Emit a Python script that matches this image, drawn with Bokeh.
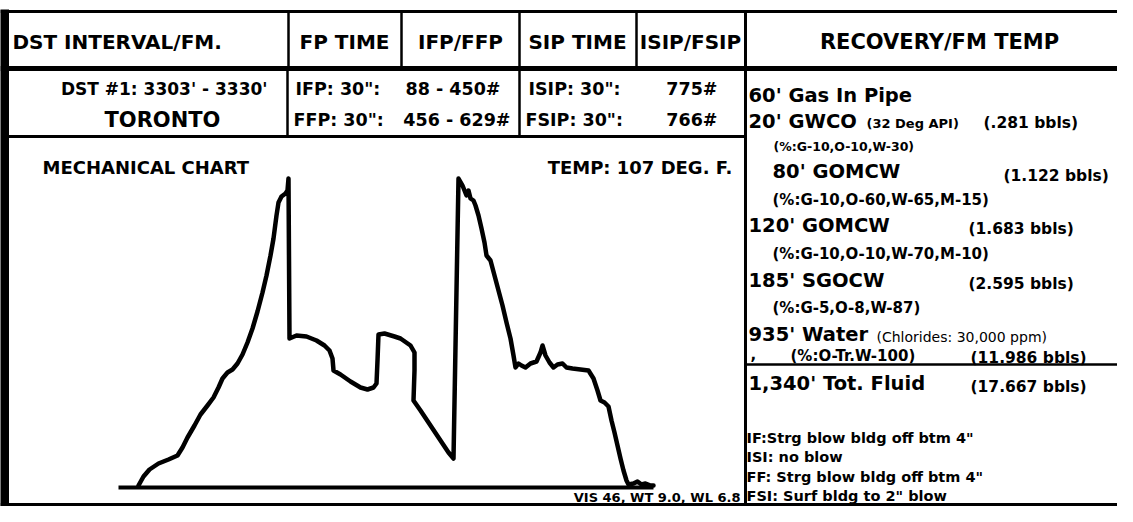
from bokeh.plotting import figure
from bokeh.models import Range1d
from bokeh.core.properties import value
from bokeh.embed import file_html
from bokeh.resources import INLINE

# ---------------- data ----------------
header_labels = ["DST INTERVAL/FM.", "FP TIME", "IFP/FFP", "SIP TIME", "ISIP/FSIP", "RECOVERY/FM TEMP"]
interval_lines = ["DST #1: 3303' - 3330'", "TORONTO"]
flow_labels = ["IFP:  30\":", "FFP:  30\":"]
flow_values = ["88 - 450#", "456 - 629#"]
shutin_labels = ["ISIP: 30\":", "FSIP: 30\":"]
shutin_values = ["775#", "766#"]
chart_title = "MECHANICAL  CHART"
temp_label = "TEMP:  107 DEG. F."
mud_label = "VIS 46, WT 9.0, WL 6.8"

recovery_main = ["60' Gas In Pipe", "20' GWCO", "80' GOMCW", "120' GOMCW", "185' SGOCW", "935' Water", "1,340' Tot. Fluid"]
recovery_bbls = ["(.281 bbls)", "(1.122 bbls)", "(1.683 bbls)", "(2.595 bbls)", "(11.986 bbls)", "(17.667 bbls)"]
recovery_pct = ["(%:G-10,O-60,W-65,M-15)", "(%:G-10,O-10,W-70,M-10)", "(%:G-5,O-8,W-87)", "(%:O-Tr.W-100)"]
recovery_pct_first = "(%:G-10,O-10,W-30)"
api_note = "(32 Deg API)"
chloride_note = "(Chlorides: 30,000 ppm)"
blow_notes = ["IF:Strg blow bldg off btm 4\"", "ISI: no blow", "FF: Strg blow bldg off btm 4\"", "FSI: Surf bldg to 2\" blow"]

# mechanical chart trace: time (min) vs pressure (psi)
time_min = [6.0, 7.5, 9.3, 12.0, 15.0, 17.7, 19.2, 20.7, 22.8, 24.6, 26.7, 28.5, 30.0, 31.2, 32.7, 34.2,
            35.7, 37.2, 38.7, 40.2, 41.7, 43.2, 44.4, 45.6, 46.5, 47.4, 48.0, 48.9, 50.1, 50.7, 51.0,
            51.3, 53.4, 56.4, 59.4, 61.8, 63.3, 64.2, 64.5, 66.6, 69.6, 72.6, 74.7, 76.5, 77.4, 77.7,
            78.0, 79.8, 82.8, 84.6, 87.6, 88.8, 88.8, 88.5, 90.6, 93.6, 96.6, 99.0, 100.5,
            102.0, 103.2, 104.4, 105.0, 105.6, 106.5, 107.1, 108.0, 108.9, 109.8, 110.4, 111.6, 112.8,
            114.0, 115.2, 116.4, 117.6, 118.5, 119.1, 120.0, 120.9, 122.1, 123.6, 125.4, 126.6, 127.2,
            128.1, 129.3, 130.5, 131.7, 133.2, 134.4, 136.2, 138.6, 141.0, 142.5, 143.7, 144.6, 145.8,
            147.0, 147.9, 148.8, 149.7, 150.6, 151.5, 152.4, 153.0, 154.5, 155.7, 156.9, 158.1, 159.6, 160.5]
pressure_psi = [10, 55, 90, 120, 140, 160, 200, 250, 310, 365, 410, 450, 500, 545, 575, 590,
                620, 665, 725, 795, 880, 975, 1060, 1160, 1245, 1360, 1425, 1455, 1470, 1485, 1545,
                745, 760, 755, 735, 710, 685, 645, 585, 565, 530, 500, 490, 500, 520, 635,
                765, 770, 755, 745, 710, 675, 585, 435, 385, 310, 235, 175, 145,
                1545, 1510, 1460, 1485, 1445, 1435, 1410, 1360, 1295, 1225, 1160, 1135, 1060,
                985, 910, 825, 745, 660, 600, 620, 610, 600, 620, 630, 675, 710,
                660, 625, 600, 615, 620, 600, 595, 590, 585, 545, 485, 435, 425,
                405, 335, 275, 210, 145, 85, 35, 15, 20, 30, 15, 20, 10, 10]
baseline_time = [0.0, 160.5]
baseline_psi = [0, 0]

# ---------------- figure ----------------
W, H = 1117, 506
p = figure(width=W, height=H, x_range=Range1d(0, W), y_range=Range1d(H, 0),
           output_backend="svg", toolbar_location=None, min_border=0,
           x_axis_location=None, y_axis_location=None)
p.grid.visible = False
p.outline_line_color = None
p.background_fill_color = "white"
p.border_fill_color = "white"

# scales of the pressure chart (time in minutes, pressure in psi)
p.extra_x_ranges = {"t": Range1d(-118 * 0.3, (W - 118) * 0.3)}
p.extra_y_ranges = {"psi": Range1d((487 - H) * 5, 487 * 5)}

BLACK = "#000000"
FONT = value("DejaVu Sans")

# table rules
p.segment(x0=[0, 0, 8, 0], y0=[11, 68, 136, 505], x1=[W, W, 745, W], y1=[11, 68, 136, 505],
          line_width=[3, 5, 3, 5], line_color=BLACK)
p.segment(x0=[4], y0=[9], x1=[4], y1=[H], line_width=9, line_color=BLACK)
p.segment(x0=[288, 401, 519, 636], y0=[11] * 4, x1=[288, 401, 519, 636], y1=[68] * 4,
          line_width=2.5, line_color=BLACK)
p.segment(x0=[287, 519], y0=[68, 68], x1=[287, 519], y1=[136, 136], line_width=2.5, line_color=BLACK)
p.segment(x0=[745], y0=[11], x1=[745], y1=[H], line_width=3, line_color=BLACK)
p.segment(x0=[745], y0=[364], x1=[W], y1=[364], line_width=2.5, line_color=BLACK)


def txt(x, y, t, size, align="left", style="bold"):
    p.text(x=x, y=y, text=t, text_font=FONT, text_font_style=style, text_font_size=size,
           text_align=align, text_baseline="middle", text_color=BLACK)


# header
txt([12], [41], [header_labels[0]], "20px")
txt([344, 460, 577, 690], [41] * 4, header_labels[1:5], "20px", align="center")
txt([939], [41], [header_labels[5]], "21px", align="center")

# row 2
txt([267], [88], [interval_lines[0]], "17px", align="right")
txt([162], [119], [interval_lines[1]], "21px", align="center")
txt([295, 293], [88, 119], flow_labels, "17.5px")
txt([500, 510], [88, 119], flow_values, "17.5px", align="right")
txt([528, 525], [88, 119], shutin_labels, "17.5px")
txt([717, 717], [88, 119], shutin_values, "17.5px", align="right")

# chart labels
txt([42], [167], [chart_title], "18px")
txt([738], [167], [temp_label], "18px", align="right")
txt([740], [497], [mud_label], "13px", align="right")

# recovery column
txt([748, 748, 772, 748, 748, 748, 748], [95, 121, 171, 225, 280, 334, 383], recovery_main, "19.5px")
txt([983, 1003, 968, 968, 970, 970], [122, 175, 228, 283, 357, 386], recovery_bbls, "15.5px")
txt([772, 772, 772, 790], [199, 253, 307, 355], recovery_pct, "15px")
txt([773], [146], [recovery_pct_first], "12.5px")
txt([750], [353], [","], "15px")
txt([866], [123], [api_note], "13px")
txt([876], [336], [chloride_note], "14px", style="normal")
txt([746] * 4, [437, 456, 476, 495], blow_notes, "14.5px")

# mechanical chart
p.line(baseline_time, baseline_psi, x_range_name="t", y_range_name="psi", line_width=4, line_color=BLACK)
p.line(time_min, pressure_psi, x_range_name="t", y_range_name="psi", line_width=4.5, line_color=BLACK,
       line_join="round", line_cap="round")

open("out.html", "w").write(file_html(p, INLINE))
